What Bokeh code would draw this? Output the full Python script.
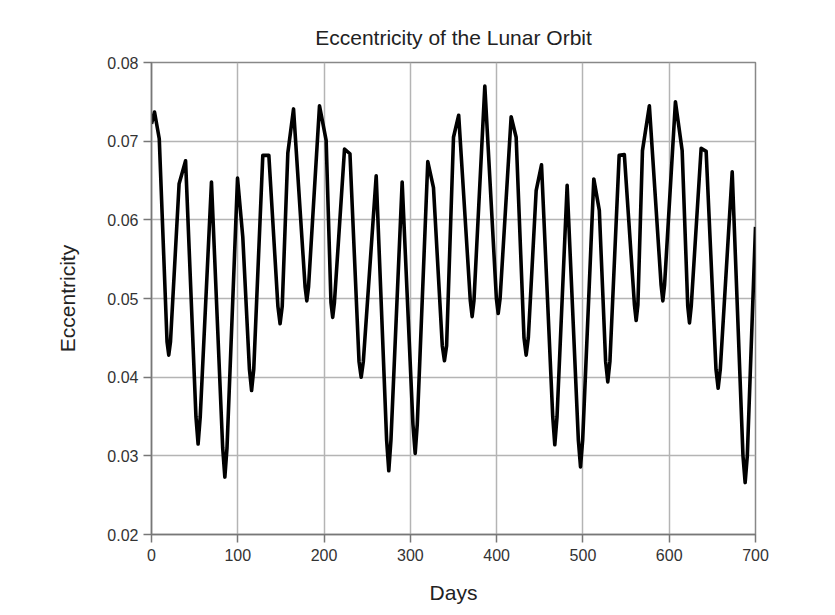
from bokeh.plotting import figure
from bokeh.models import FixedTicker, PrintfTickFormatter, Range1d
from bokeh.embed import file_html
from bokeh.resources import INLINE

# Values
days = [0, 3.5, 9, 18, 20, 22, 32, 39.5, 51.5, 54, 56.5, 69.5, 82.5, 85, 87.5,
        99.7, 105.8, 113.5, 116, 118.5, 129, 136, 146.5, 149, 151.5, 158, 164.6,
        178, 180, 182, 194.7, 202.4, 208, 210, 212, 223.7, 230, 240.5, 243, 245.5,
        260.4, 272.5, 275, 277.5, 290.5, 303, 305.6, 308, 320.2, 326.8, 337, 339.5,
        342, 350, 356, 369.5, 371.6, 373.7, 386.3, 399.7, 401.8, 404, 416.8, 422.6,
        431.7, 434.2, 436.7, 445.8, 452, 465, 467.4, 470, 481.7, 494.7, 497.2, 499.7,
        512.6, 519, 526.3, 528.8, 531.3, 542, 548, 559.7, 561.7, 563.7, 569, 577,
        590.6, 592.6, 594.6, 607.2, 615, 621.5, 623.5, 625.5, 637, 642.8, 654.2,
        656.7, 659.2, 673, 685.5, 688, 690.5, 700]
eccentricity = [0.0722, 0.0737, 0.0703, 0.0445, 0.0428, 0.0445, 0.0646, 0.0675,
                0.0350, 0.0315, 0.0350, 0.0648, 0.0310, 0.0273, 0.0310, 0.0653,
                0.0578, 0.0410, 0.0383, 0.0410, 0.0682, 0.0682, 0.0490, 0.0468,
                0.0490, 0.0685, 0.0741, 0.0515, 0.0497, 0.0515, 0.0745, 0.0701,
                0.0495, 0.0476, 0.0495, 0.0690, 0.0684, 0.0420, 0.0400, 0.0420,
                0.0656, 0.0320, 0.0281, 0.0320, 0.0648, 0.0340, 0.0303, 0.0340,
                0.0674, 0.0641, 0.0440, 0.0421, 0.0440, 0.0705, 0.0733, 0.0497,
                0.0477, 0.0497, 0.0770, 0.0500, 0.0481, 0.0500, 0.0731, 0.0705,
                0.0450, 0.0428, 0.0450, 0.0637, 0.0670, 0.0350, 0.0314, 0.0350,
                0.0644, 0.0320, 0.0286, 0.0320, 0.0652, 0.0612, 0.0420, 0.0394,
                0.0420, 0.0682, 0.0683, 0.0492, 0.0472, 0.0492, 0.0688, 0.0745,
                0.0517, 0.0497, 0.0517, 0.0750, 0.0688, 0.0490, 0.0469, 0.0490,
                0.0691, 0.0687, 0.0410, 0.0386, 0.0410, 0.0661, 0.0300, 0.0266,
                0.0300, 0.0591]
x_ticks = [0, 100, 200, 300, 400, 500, 600, 700]
y_ticks = [0.02, 0.03, 0.04, 0.05, 0.06, 0.07, 0.08]

FONT = "Liberation Sans"

p = figure(width=834, height=607, output_backend="svg", toolbar_location=None,
           x_range=Range1d(0, 700), y_range=Range1d(0.02, 0.08),
           min_border_left=151, min_border_right=79,
           min_border_top=62, min_border_bottom=73,
           title="Eccentricity of the Lunar Orbit")

p.title.align = "center"
p.title.text_font = FONT
p.title.text_font_size = "21px"
p.title.text_font_style = "normal"
p.title.text_color = "#222222"
p.title.text_line_height = 1.45
p.title.standoff = 27

p.background_fill_color = "white"
p.border_fill_color = "white"
p.outline_line_color = "#888888"
p.outline_line_width = 1.5

p.line(days, eccentricity, line_width=3.6, line_color="black", line_join="round")

for ax in (p.xaxis[0], p.yaxis[0]):
    ax.axis_line_color = "#777777"
    ax.axis_line_width = 1.5
    ax.major_tick_line_color = "#777777"
    ax.major_tick_line_width = 1.5
    ax.major_tick_out = 8
    ax.major_tick_in = 0
    ax.minor_tick_line_color = None
    ax.major_label_text_font = FONT
    ax.major_label_text_font_size = "16px"
    ax.major_label_text_color = "#333333"
    ax.axis_label_text_font = FONT
    ax.axis_label_text_font_style = "normal"
    ax.axis_label_text_color = "#222222"
    ax.axis_label_text_font_size = "21px"

p.xaxis.ticker = FixedTicker(ticks=x_ticks)
p.yaxis.ticker = FixedTicker(ticks=y_ticks)
p.yaxis.formatter = PrintfTickFormatter(format="%.2f")
p.xaxis.major_label_standoff = 6
p.yaxis.major_label_standoff = 5
p.xaxis.axis_label = "Days"
p.yaxis.axis_label = "Eccentricity"
p.xaxis.axis_label_standoff = 17
p.yaxis.axis_label_standoff = 25

p.xgrid.grid_line_color = "#b4b4b4"
p.ygrid.grid_line_color = "#b4b4b4"
p.xgrid.grid_line_width = 1.5
p.ygrid.grid_line_width = 1.5

open("out.html", "w").write(file_html(p, INLINE))
